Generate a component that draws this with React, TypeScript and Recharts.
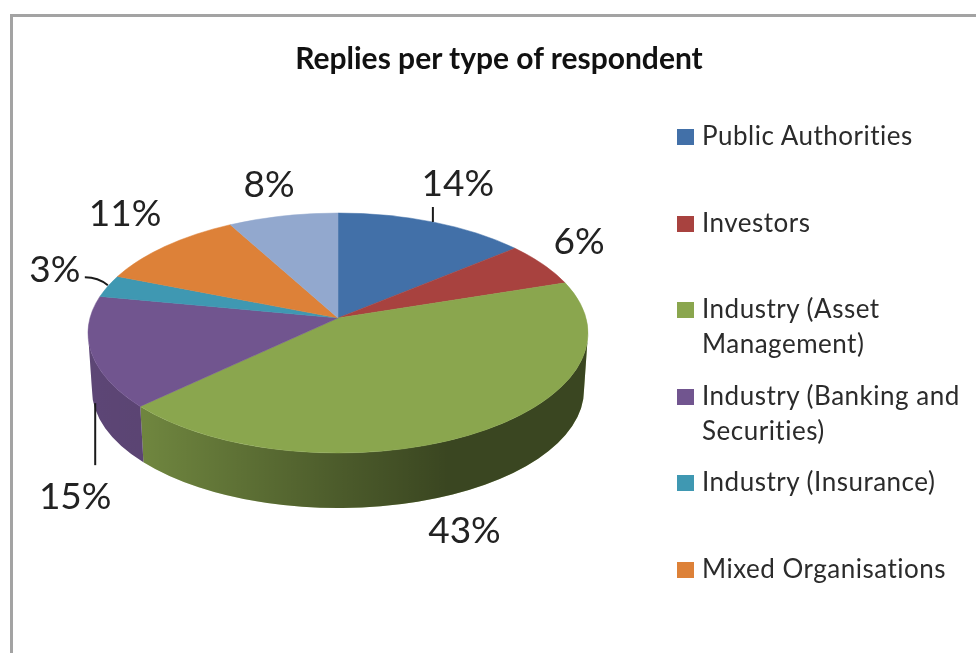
import React from 'react';
import { PieChart, Pie, Legend } from 'recharts';

const CATEGORIES = [
  'Public Authorities',
  'Investors',
  'Industry (Asset Management)',
  'Industry (Banking and Securities)',
  'Industry (Insurance)',
  'Mixed Organisations',
  'Others',
];
const SHARES = [14, 6, 43, 15, 3, 11, 8];
const COLORS = ['#4270A8', '#A8423F', '#8AA64E', '#71558F', '#3F98B2', '#DD8138', '#92A8CE'];
// the picture is cut off below the sixth legend row
const LEGEND_ROWS = [
  ['Public Authorities'],
  ['Investors'],
  ['Industry (Asset', 'Management)'],
  ['Industry (Banking and', 'Securities)'],
  ['Industry (Insurance)'],
  ['Mixed Organisations'],
];

const data = CATEGORIES.map((name, i) => ({ name, value: SHARES[i], fill: COLORS[i] }));

const FONT = 'Lato, sans-serif';
const CX = 338;
const CY = 333;
const RX = 250;
const RY = 120;
const APEX_Y = 318;
const BOTTOM_RX = 246;
const BOTTOM_RY = 118;
const BOTTOM_CY = 390;
// perspective squeeze of the rim towards the back of the pie
const RIM_K = 0.882;

// label offsets from the middle of each slice's rim
const LABEL_OFFSET = [
  [25, -40],
  [36, -25],
  [-15, 97],
  [-16, 142],
  [-53, -19],
  [-41, -34],
  [-14, -33],
];
const LEADERS: Record<number, string> = {
  0: 'M0,0 V-15',
  3: 'M4,51 V113',
  4: 'M0,-1 C-6,-6 -14,-9 -23,-9',
};

const rimAngle = (theta: number) => {
  const half = (theta * Math.PI) / 360;
  return 2 * Math.atan2(Math.sin(half) * RIM_K, Math.cos(half));
};
const topPoint = (phi: number) => [CX + RX * Math.sin(phi), CY - RY * Math.cos(phi)];
const bottomPoint = (phi: number) => [CX + BOTTOM_RX * Math.sin(phi), BOTTOM_CY - BOTTOM_RY * Math.cos(phi)];

const renderSlice = (props: any) => {
  const { startAngle, endAngle, fill } = props;
  const a = rimAngle(90 - startAngle);
  const b = rimAngle(90 - endAngle);
  const [x0, y0] = topPoint(a);
  const [x1, y1] = topPoint(b);
  const large = b - a > Math.PI ? 1 : 0;
  const top = `M${CX},${APEX_Y} L${x0},${y0} A${RX},${RY} 0 ${large} 1 ${x1},${y1} Z`;

  let side = null;
  const from = Math.max(a, Math.PI / 2);
  const to = Math.min(b, (3 * Math.PI) / 2);
  if (to > from) {
    const [sx0, sy0] = topPoint(from);
    const [sx1, sy1] = topPoint(to);
    const [bx0, by0] = bottomPoint(from);
    const [bx1, by1] = bottomPoint(to);
    const d =
      `M${sx0},${sy0} A${RX},${RY} 0 0 1 ${sx1},${sy1} L${bx1},${by1} ` +
      `A${BOTTOM_RX},${BOTTOM_RY} 0 0 0 ${bx0},${by0} Z`;
    side = (
      <g>
        <path d={d} fill={fill} />
        <path d={d} fill="url(#sideShade)" />
      </g>
    );
  }
  return (
    <g>
      {side}
      <path d={top} fill={fill} stroke={fill} strokeWidth={0.5} />
    </g>
  );
};

const renderLabel = (props: any) => {
  const { midAngle, index, value } = props;
  const [x, y] = topPoint(rimAngle(90 - midAngle));
  const [dx, dy] = LABEL_OFFSET[index];
  return (
    <g key={index}>
      {LEADERS[index] && (
        <path
          d={LEADERS[index]}
          transform={`translate(${x},${y})`}
          fill="none"
          stroke="#1a1a1a"
          strokeWidth={2}
        />
      )}
      <text
        x={x + dx}
        y={y + dy}
        textAnchor="middle"
        dominantBaseline="central"
        fontFamily={FONT}
        fontSize={37}
        fill="#222"
      >
        {value}%
      </text>
    </g>
  );
};

const renderLegend = () => (
  <div style={{ position: 'relative', width: 300, height: 520, fontFamily: FONT, fontSize: 26, color: '#2b2b2b', letterSpacing: 0.5 }}>
    {LEGEND_ROWS.map((lines, i) => (
      <div key={i} style={{ position: 'absolute', left: 0, top: i * 86.6, whiteSpace: 'nowrap' }}>
        <div style={{ position: 'absolute', left: 0, top: 11, width: 17, height: 16, background: COLORS[i] }} />
        <div style={{ marginLeft: 25, lineHeight: '35px' }}>
          {lines.map((line) => (
            <div key={line}>{line}</div>
          ))}
        </div>
      </div>
    ))}
  </div>
);

export default function App() {
  return (
    <div style={{ position: 'absolute', left: 0, top: 0, width: 976, height: 653, overflow: 'hidden', background: '#fff', filter: 'blur(0.4px)' }}>
      <div
        style={{
          position: 'absolute',
          left: 10,
          top: 14,
          width: 980,
          height: 660,
          borderTop: '3px solid #a3a3a3',
          borderLeft: '3px solid #a3a3a3',
        }}
      />
      <PieChart width={976} height={653} style={{ position: 'absolute', left: 0, top: 0 }}>
        <defs>
          <linearGradient id="sideShade" gradientUnits="userSpaceOnUse" x1={88} y1={0} x2={588} y2={0}>
            <stop offset="0" stopColor="#000" stopOpacity={0.18} />
            <stop offset="0.12" stopColor="#000" stopOpacity={0.2} />
            <stop offset="0.5" stopColor="#000" stopOpacity={0.45} />
            <stop offset="0.72" stopColor="#000" stopOpacity={0.58} />
            <stop offset="1" stopColor="#000" stopOpacity={0.58} />
          </linearGradient>
        </defs>
        <text x={499} y={57} textAnchor="middle" dominantBaseline="central" fontFamily={FONT} fontWeight={700} fontSize={30} fill="#111">
          Replies per type of respondent
        </text>
        <Pie
          data={data}
          dataKey="value"
          nameKey="name"
          cx={CX}
          cy={CY}
          outerRadius={RX}
          startAngle={90}
          endAngle={-270}
          stroke="none"
          shape={renderSlice}
          label={renderLabel}
          labelLine={false}
          isAnimationActive={false}
        />
        <Legend
          content={renderLegend}
          layout="vertical"
          wrapperStyle={{ position: 'absolute', left: 677, top: 118, width: 300, bottom: 'auto', right: 'auto' }}
        />
      </PieChart>
    </div>
  );
}
